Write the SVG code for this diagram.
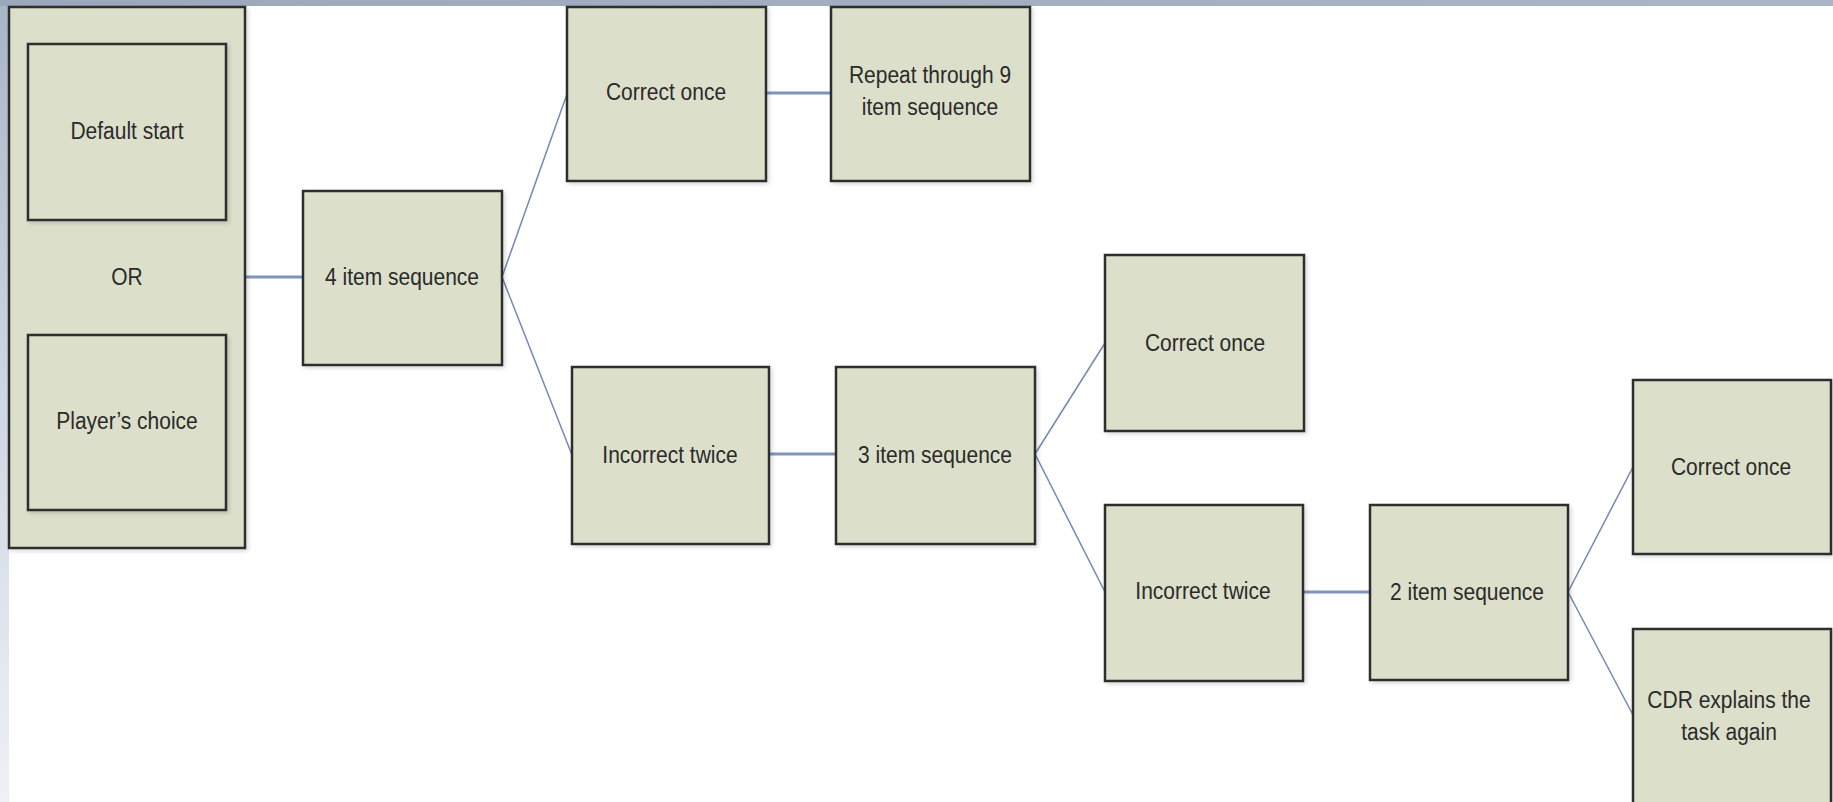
<svg xmlns="http://www.w3.org/2000/svg" width="1833" height="802" viewBox="0 0 1833 802">
<defs>
<linearGradient id="topband" x1="0" y1="0" x2="1" y2="0">
<stop offset="0" stop-color="#9aa8bb"/>
<stop offset="1" stop-color="#aab6c6"/>
</linearGradient>
<linearGradient id="leftband" x1="0" y1="0" x2="0" y2="1">
<stop offset="0" stop-color="#a8b5c7"/>
<stop offset="0.5" stop-color="#cfd7e3"/>
<stop offset="1" stop-color="#eef1f6"/>
</linearGradient>
<filter id="sh" x="-5%" y="-5%" width="115%" height="115%">
<feGaussianBlur in="SourceAlpha" stdDeviation="2"/>
<feOffset dx="2" dy="2" result="b"/>
<feComponentTransfer><feFuncA type="linear" slope="0.15"/></feComponentTransfer>
<feMerge><feMergeNode/><feMergeNode in="SourceGraphic"/></feMerge>
</filter>
</defs>
<style>
.box{fill:#dcdfca;stroke:#2e2e2e;stroke-width:2.5;filter:url(#sh)}
.lbl{font-family:"Liberation Sans",Arial,sans-serif;font-size:21px;fill:#2b2b2b;text-anchor:middle}
.thick{stroke:#8094bb;stroke-width:3;fill:none}
.thin{stroke:#7388b4;stroke-width:1.5;fill:none}
</style>
<rect width="1833" height="802" fill="#ffffff"/>
<rect x="0" y="0" width="9" height="802" fill="url(#leftband)"/>
<rect x="0" y="0" width="1833" height="6" fill="url(#topband)"/>

<g id="connectors">
<line class="thick" x1="245" y1="277" x2="303" y2="277"/>
<line class="thin" x1="502" y1="277" x2="567" y2="94"/>
<line class="thin" x1="502" y1="277" x2="572" y2="455"/>
<line class="thick" x1="766" y1="93" x2="831" y2="93"/>
<line class="thick" x1="769" y1="454" x2="836" y2="454"/>
<line class="thin" x1="1035" y1="454" x2="1105" y2="343"/>
<line class="thin" x1="1035" y1="454" x2="1105" y2="592"/>
<line class="thick" x1="1302" y1="592" x2="1370" y2="592"/>
<line class="thin" x1="1568" y1="592" x2="1633" y2="467"/>
<line class="thin" x1="1568" y1="592" x2="1633" y2="715"/>
</g>

<g id="start-group">
<rect class="box" x="9" y="7" width="236" height="541"/>
<text class="lbl" transform="translate(127 285) scale(1 1.15)">OR</text>
</g>
<g id="default-start">
<rect class="box" x="28" y="44" width="198" height="176"/>
<text class="lbl" transform="translate(127 139) scale(1 1.15)">Default start</text>
</g>
<g id="players-choice">
<rect class="box" x="28" y="335" width="198" height="175"/>
<text class="lbl" transform="translate(127 429) scale(1 1.15)">Player’s choice</text>
</g>
<g id="seq4">
<rect class="box" x="303" y="191" width="199" height="174"/>
<text class="lbl" transform="translate(402 285) scale(1 1.15)">4 item sequence</text>
</g>
<g id="correct1">
<rect class="box" x="567" y="7" width="199" height="174"/>
<text class="lbl" transform="translate(666 100) scale(1 1.15)">Correct once</text>
</g>
<g id="repeat">
<rect class="box" x="831" y="7" width="199" height="174"/>
<text class="lbl" transform="translate(930 83) scale(1 1.15)">Repeat through 9</text>
<text class="lbl" transform="translate(930 115) scale(1 1.15)">item sequence</text>
</g>
<g id="incorrect1">
<rect class="box" x="572" y="367" width="197" height="177"/>
<text class="lbl" transform="translate(670 463) scale(1 1.15)">Incorrect twice</text>
</g>
<g id="seq3">
<rect class="box" x="836" y="367" width="199" height="177"/>
<text class="lbl" transform="translate(935 463) scale(1 1.15)">3 item sequence</text>
</g>
<g id="correct2">
<rect class="box" x="1105" y="255" width="199" height="176"/>
<text class="lbl" transform="translate(1205 351) scale(1 1.15)">Correct once</text>
</g>
<g id="incorrect2">
<rect class="box" x="1105" y="505" width="198" height="176"/>
<text class="lbl" transform="translate(1203 599) scale(1 1.15)">Incorrect twice</text>
</g>
<g id="seq2">
<rect class="box" x="1370" y="505" width="198" height="175"/>
<text class="lbl" transform="translate(1467 600) scale(1 1.15)">2 item sequence</text>
</g>
<g id="correct3">
<rect class="box" x="1633" y="380" width="198" height="174"/>
<text class="lbl" transform="translate(1731 475) scale(1 1.15)">Correct once</text>
</g>
<g id="cdr">
<rect class="box" x="1633" y="629" width="198" height="200"/>
<text class="lbl" transform="translate(1729 708) scale(1 1.15)">CDR explains the</text>
<text class="lbl" transform="translate(1729 740) scale(1 1.15)">task again</text>
</g>
</svg>
